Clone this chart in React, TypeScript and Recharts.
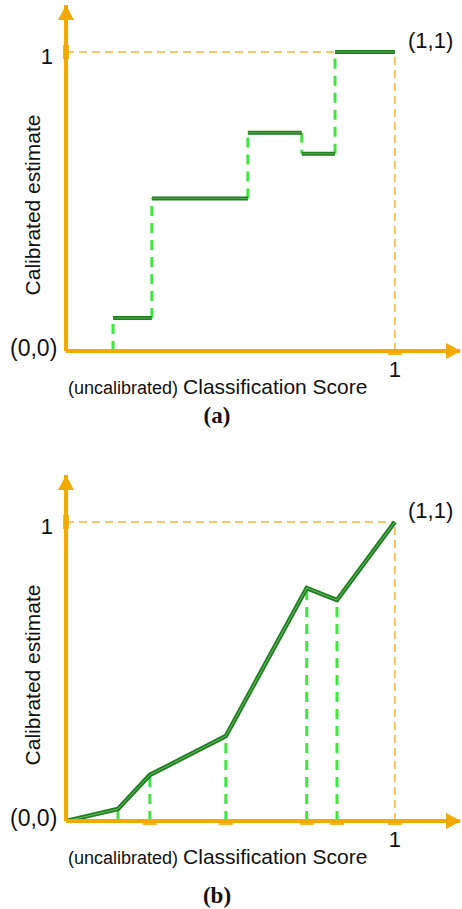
import { ComposedChart, Line, XAxis, YAxis, ReferenceLine, ReferenceDot } from 'recharts';

// axis extents (arrow tips sit past the 1,1 corner)
const X_MAX = 1.198;
const Y_MAX = 1.157;
const X_TICKS = [1];
const Y_TICKS = [1];

// (a) step calibration: bin edges and the value of each bin
const STEP_EDGES = [0, 0.143, 0.261, 0.553, 0.717, 0.818, 1];
const STEP_VALUES = [0, 0.11, 0.51, 0.73, 0.66, 1];

// (b) piecewise linear calibration
const PIECE_X = [0, 0.158, 0.255, 0.486, 0.732, 0.824, 1];
const PIECE_Y = [0, 0.04, 0.154, 0.284, 0.779, 0.739, 1];

const AXIS_ORANGE = '#F2A900';
const REF_ORANGE = '#F5B53A';
const DARK_GREEN = '#1E7F1E';
const LIGHT_GREEN = '#3FE63F';
const FONT = '"Liberation Sans", Arial, sans-serif';

const W = 462;
const H = 440;

const stepData = STEP_VALUES.flatMap((v, i) => [
  { x: STEP_EDGES[i], y: v },
  { x: STEP_EDGES[i + 1], y: v },
  { x: STEP_EDGES[i + 1], y: null },
]);

const pieceData = PIECE_X.map((x, i) => ({ x, y: PIECE_Y[i] }));

const XTick = ({ x, y, payload }: any) => (
  <text x={x} y={y} dy={18} textAnchor="middle" fontSize={22} fontFamily={FONT} fill="#111">
    {payload.value}
  </text>
);

const YTick = ({ x, y, payload }: any) => (
  <text x={x - 5} y={y} dy={12} textAnchor="end" fontSize={22} fontFamily={FONT} fill="#111">
    {payload.value}
  </text>
);

const ArrowRight = ({ cx, cy }: any) => (
  <polygon points={`${cx + 1},${cy} ${cx - 14},${cy - 8} ${cx - 14},${cy + 8}`} fill={AXIS_ORANGE} />
);
const ArrowUp = ({ cx, cy }: any) => (
  <polygon points={`${cx},${cy} ${cx - 8},${cy + 15} ${cx + 8},${cy + 15}`} fill={AXIS_ORANGE} />
);
const XMark = ({ cx, cy }: any) => (
  <rect x={cx - 7} y={cy - 2} width={14} height={6} fill={AXIS_ORANGE} opacity={0.85} />
);
const YMark = ({ cx, cy }: any) => (
  <rect x={cx - 3} y={cy - 7} width={6} height={14} fill={AXIS_ORANGE} opacity={0.85} />
);

function Frame({ data, marks, children }: any) {
  return (
    <ComposedChart width={W} height={H} data={data} margin={{ top: 5, right: 2, left: 36, bottom: 59 }}>
      <XAxis
        dataKey="x"
        type="number"
        domain={[0, X_MAX]}
        ticks={X_TICKS}
        allowDataOverflow
        height={30}
        axisLine={{ stroke: AXIS_ORANGE, strokeWidth: 4 }}
        tickLine={false}
        tick={<XTick />}
      />
      <YAxis
        type="number"
        domain={[0, Y_MAX]}
        ticks={Y_TICKS}
        allowDataOverflow
        width={30}
        axisLine={{ stroke: AXIS_ORANGE, strokeWidth: 4 }}
        tickLine={false}
        tick={<YTick />}
      />
      <ReferenceLine segment={[{ x: 0, y: 1 }, { x: 1, y: 1 }]} stroke={REF_ORANGE} strokeWidth={1.5} strokeDasharray="8 5" ifOverflow="visible" />
      <ReferenceLine segment={[{ x: 1, y: 0 }, { x: 1, y: 1 }]} stroke={REF_ORANGE} strokeWidth={1.5} strokeDasharray="8 5" ifOverflow="visible" />
      {marks.map((m: number) => (
        <ReferenceDot key={'m' + m} x={m} y={0} r={0} shape={<XMark />} ifOverflow="visible" />
      ))}
      <ReferenceDot x={0} y={1} r={0} shape={<YMark />} ifOverflow="visible" />
      <ReferenceDot x={X_MAX} y={0} r={0} shape={<ArrowRight />} ifOverflow="visible" />
      <ReferenceDot x={0} y={Y_MAX} r={0} shape={<ArrowUp />} ifOverflow="visible" />
      {children}
    </ComposedChart>
  );
}

function Labels({ top, tag, tagDy }: { top: number; tag: string; tagDy: number }) {
  return (
    <g transform={`translate(0,${top})`} fontFamily={FONT} fill="#111">
      <text x={408} y={48} fontSize={22}>(1,1)</text>
      <text x={10} y={356} fontSize={23}>(0,0)</text>
      <text transform="translate(40,205) rotate(-90)" textAnchor="middle" fontSize={21}>
        Calibrated estimate
      </text>
      <text x={68} y={394}>
        <tspan fontSize={18}>(uncalibrated) </tspan>
        <tspan fontSize={21}>Classification Score</tspan>
      </text>
      <text x={217} y={423 + tagDy} textAnchor="middle" fontSize={23} fontWeight="bold" fontFamily='"Liberation Serif", "Times New Roman", serif'>
        {tag}
      </text>
    </g>
  );
}

export default function App() {
  return (
    <div style={{ position: 'absolute', left: 0, top: 0, width: 462, height: 909, background: '#fff' }}>
      <div style={{ position: 'absolute', left: 0, top: 0 }}>
        <Frame data={stepData} marks={[1]}>
          {STEP_VALUES.slice(1).map((v, i) => (
            <ReferenceLine
              key={'sv' + i}
              segment={[{ x: STEP_EDGES[i + 1], y: STEP_VALUES[i] }, { x: STEP_EDGES[i + 1], y: v }]}
              stroke={LIGHT_GREEN}
              strokeWidth={3}
              strokeDasharray="10 7"
            />
          ))}
          <Line dataKey="y" type="linear" stroke={DARK_GREEN} strokeWidth={4} dot={false} connectNulls={false} isAnimationActive={false} />
          <Line dataKey="y" type="linear" stroke="#4DA84D" strokeWidth={1} dot={false} connectNulls={false} isAnimationActive={false} />
        </Frame>
      </div>
      <div style={{ position: 'absolute', left: 0, top: 470 }}>
        <Frame data={pieceData} marks={PIECE_X.slice(2)}>
          {PIECE_X.slice(1, -1).map((x, i) => (
            <ReferenceLine
              key={'pv' + i}
              segment={[{ x, y: 0 }, { x, y: PIECE_Y[i + 1] }]}
              stroke={LIGHT_GREEN}
              strokeWidth={3}
              strokeDasharray="10 7"
            />
          ))}
          <Line dataKey="y" type="linear" stroke={DARK_GREEN} strokeWidth={4.5} dot={false} isAnimationActive={false} />
          <Line dataKey="y" type="linear" stroke="#6DBB6D" strokeWidth={1} dot={false} isAnimationActive={false} />
        </Frame>
      </div>
      <svg width={462} height={909} style={{ position: 'absolute', left: 0, top: 0, pointerEvents: 'none' }}>
        <Labels top={0} tag="(a)" tagDy={0} />
        <Labels top={470} tag="(b)" tagDy={10} />
      </svg>
    </div>
  );
}
